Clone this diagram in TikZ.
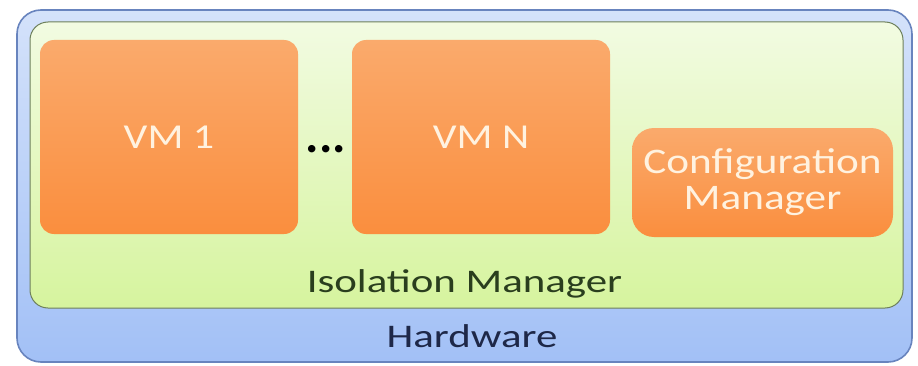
\documentclass[tikz,border=0pt]{standalone}
\usepackage{fontspec}
\setmainfont{Carlito}
\newfontfamily\diagfont[FakeStretch=1.2]{Carlito}
\newfontfamily\widefont[FakeStretch=1.3]{Carlito}
\usetikzlibrary{positioning}

\definecolor{hwtop}{RGB}{212,226,250}
\definecolor{hwbot}{RGB}{162,192,246}
\definecolor{hwline}{RGB}{104,132,190}
\definecolor{isotop}{RGB}{242,251,226}
\definecolor{isobot}{RGB}{214,244,158}
\definecolor{isoline}{RGB}{110,128,92}
\definecolor{vmtop}{RGB}{250,170,108}
\definecolor{vmbot}{RGB}{250,142,62}
\definecolor{vmtext}{RGB}{255,242,224}

\begin{document}
\begin{tikzpicture}[x=1pt,y=1pt,
    hwbox/.style={draw=hwline,line width=1.6pt,rounded corners=24pt,
        top color=hwtop,bottom color=hwbot,inner sep=0pt},
    isobox/.style={draw=isoline,line width=1pt,rounded corners=18pt,
        top color=isotop,bottom color=isobot,inner sep=0pt},
    vmbox/.style={rounded corners=14pt,top color=vmtop,bottom color=vmbot,
        text=vmtext,inner sep=0pt,align=center,
        font=\diagfont\fontsize{35}{40}\selectfont},
    layerlabel/.style={anchor=base,font=\widefont\fontsize{33}{36}\selectfont}]
    \useasboundingbox (0,0) rectangle (918,365);
    % layers
    \node (hw) [hwbox,minimum width=895,minimum height=352] at (464.5,179) {};
    \node (iso) [isobox,minimum width=873,minimum height=286] at (466.5,200) {};
    % guests
    \node (vm1) [vmbox,minimum width=258,minimum height=194] at (169,228) {VM 1};
    \node (vmn) [vmbox,minimum width=258,minimum height=194] at (481,228) {VM N};
    \node (cfg) [vmbox,rounded corners=22pt,minimum width=261,minimum height=109,
        font=\diagfont\fontsize{36}{36}\selectfont] at (762.5,182.5) {Configuration\\Manager};
    \node (dots) [anchor=base,font=\bfseries\fontsize{50}{50}\selectfont] at (326,213) {...};
    % labels
    \node (isolabel) [layerlabel,text={rgb,255:red,42;green,62;blue,30}] at (464.5,73) {Isolation Manager};
    \node (hwlabel) [layerlabel,text={rgb,255:red,30;green,40;blue,72}] at (472,18) {Hardware};
\end{tikzpicture}
\end{document}
